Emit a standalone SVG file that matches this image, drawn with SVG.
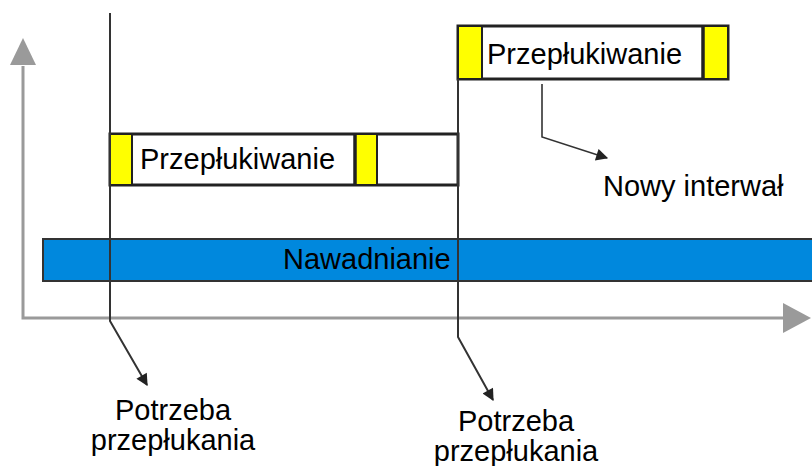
<svg xmlns="http://www.w3.org/2000/svg" width="812" height="466" viewBox="0 0 812 466">
<style>
text{font-family:"Liberation Sans",Arial,sans-serif;font-size:29px;fill:#000}
.axis{stroke:#9a9a9a;stroke-width:3;fill:none}
.ah{fill:#9a9a9a}
.box{fill:#fff;stroke:#222;stroke-width:3}
.yel{fill:#ffff00;stroke:#222;stroke-width:2}
.line{stroke:#333;stroke-width:2;fill:none}
.conn{stroke:#333;stroke-width:1.6;fill:none}
</style>
<defs>
<marker id="arr2" viewBox="0 0 10 10" refX="9" refY="5" markerWidth="14" markerHeight="12" orient="auto" markerUnits="userSpaceOnUse">
<path d="M0,0 L10,5 L0,10 z" fill="#222"/>
</marker>
</defs>
<g id="axes">
<path class="axis" d="M23,66 L23,318 L785,318"/>
<polygon class="ah" points="23,38 10,65 36,65"/>
<polygon class="ah" points="811,318 783,303 783,333"/>
</g>
<g id="nawadnianie">
<rect x="43" y="239" width="780" height="42" fill="#0088dd" stroke="#333" stroke-width="2"/>
<text x="283" y="269">Nawadnianie</text>
</g>
<g id="przeplukiwanie1">
<rect class="box" x="110" y="134" width="348" height="51"/>
<rect class="yel" x="110" y="134" width="22" height="51"/>
<rect class="yel" x="355" y="134" width="22" height="51"/>
<line x1="355" y1="134" x2="355" y2="185" stroke="#222" stroke-width="3.5"/>
<text x="140" y="169">Przepłukiwanie</text>
</g>
<g id="przeplukiwanie2">
<rect class="box" x="458" y="26" width="270" height="53"/>
<rect class="yel" x="458" y="26" width="24" height="53"/>
<rect class="yel" x="703" y="26" width="25" height="53"/>
<line x1="703" y1="26" x2="703" y2="79" stroke="#222" stroke-width="3.5"/>
<text x="487" y="64">Przepłukiwanie</text>
</g>
<g id="label-nowy">
<text x="603" y="196">Nowy interwał</text>
</g>
<g id="label-potrzeba1">
<text x="173" y="420" text-anchor="middle">Potrzeba</text>
<text x="173" y="450" text-anchor="middle">przepłukania</text>
</g>
<g id="label-potrzeba2">
<text x="516" y="431" text-anchor="middle">Potrzeba</text>
<text x="516" y="461" text-anchor="middle">przepłukania</text>
</g>
<g id="connectors">
<path class="line" d="M110,13 L110,321 L147,385" marker-end="url(#arr2)"/>
<path class="line" d="M458,79 L458,337 L493,400" marker-end="url(#arr2)"/>
<path class="conn" d="M542,84 L542,137 L607,158" marker-end="url(#arr2)"/>
</g>
</svg>
